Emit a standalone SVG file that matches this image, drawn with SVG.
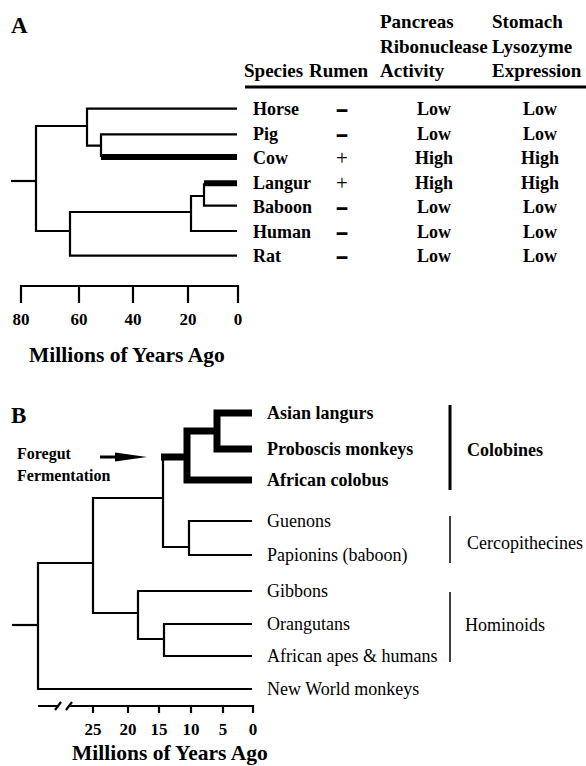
<svg xmlns="http://www.w3.org/2000/svg" width="586" height="766" viewBox="0 0 586 766">
<style>
text{font-family:"Liberation Serif","Times New Roman",serif;fill:#000}
.b{font-weight:bold}
.hd{font-size:19px;font-weight:bold}
.row{font-size:18px;font-weight:bold}
.lab{font-size:18px}
.plus{font-size:21px;text-anchor:middle}
.dash{font-size:18px;font-weight:bold;text-anchor:middle;stroke:#000;stroke-width:1.4}
.num{font-size:17px;font-weight:bold;text-anchor:middle}
.ax{font-size:21.5px;font-weight:bold}
.big{font-size:23px;font-weight:bold}
.mid{text-anchor:middle}
.ln{stroke:#000;stroke-width:2.2;fill:none;stroke-linejoin:miter}
.tk{stroke:#000;stroke-width:6;fill:none;stroke-linejoin:miter}
.tk7{stroke:#000;stroke-width:7;fill:none;stroke-linejoin:miter}
</style>

<!-- Panel A -->
<text class="big" x="11" y="33">A</text>
<g id="header">
<text class="hd" x="244" y="77">Species</text>
<text class="hd" x="309" y="77">Rumen</text>
<text class="hd" x="380" y="28">Pancreas</text>
<text class="hd" x="380" y="52.5">Ribonuclease</text>
<text class="hd" x="380" y="77">Activity</text>
<text class="hd" x="492" y="28">Stomach</text>
<text class="hd" x="492" y="52.5">Lysozyme</text>
<text class="hd" x="492" y="77">Expression</text>
<path d="M245 87 H586" stroke="#000" stroke-width="3"/>
</g>

<g id="horse"><text class="row" x="253" y="115">Horse</text><text class="dash" x="342" y="115">–</text><text class="row mid" x="434" y="115">Low</text><text class="row mid" x="540" y="115">Low</text></g>
<g id="pig"><text class="row" x="253" y="140">Pig</text><text class="dash" x="342" y="140">–</text><text class="row mid" x="434" y="140">Low</text><text class="row mid" x="540" y="140">Low</text></g>
<g id="cow"><text class="row" x="253" y="164">Cow</text><text class="plus" x="342" y="165">+</text><text class="row mid" x="434" y="164">High</text><text class="row mid" x="540" y="164">High</text></g>
<g id="langur"><text class="row" x="253" y="189">Langur</text><text class="plus" x="342" y="190">+</text><text class="row mid" x="434" y="189">High</text><text class="row mid" x="540" y="189">High</text></g>
<g id="baboon"><text class="row" x="253" y="213">Baboon</text><text class="dash" x="342" y="213">–</text><text class="row mid" x="434" y="213">Low</text><text class="row mid" x="540" y="213">Low</text></g>
<g id="human"><text class="row" x="253" y="238">Human</text><text class="dash" x="342" y="238">–</text><text class="row mid" x="434" y="238">Low</text><text class="row mid" x="540" y="238">Low</text></g>
<g id="rat"><text class="row" x="253" y="262">Rat</text><text class="dash" x="342" y="262">–</text><text class="row mid" x="434" y="262">Low</text><text class="row mid" x="540" y="262">Low</text></g>

<g id="axisA">
<path class="ln" d="M21 303 V286 H238 V303 M79 286 V303 M133 286 V303 M188 286 V303"/>
<text class="num" x="21" y="325">80</text>
<text class="num" x="79" y="325">60</text>
<text class="num" x="133" y="325">40</text>
<text class="num" x="188" y="325">20</text>
<text class="num" x="238" y="325">0</text>
<text class="ax" x="29" y="362">Millions of Years Ago</text>
</g>

<!-- Panel B -->
<text class="big" x="11" y="423">B</text>
<g id="foregut">
<text class="b" font-size="16" x="17" y="459">Foregut</text>
<text class="b" font-size="16" x="17" y="481">Fermentation</text>
</g>

<g id="asian"><text class="row" x="267" y="419">Asian langurs</text></g>
<g id="proboscis"><text class="row" x="267" y="455">Proboscis monkeys</text></g>
<g id="colobus"><text class="row" x="267" y="486">African colobus</text></g>
<g id="guenons"><text class="lab" x="267" y="527">Guenons</text></g>
<g id="papionins"><text class="lab" x="267" y="561">Papionins (baboon)</text></g>
<g id="gibbons"><text class="lab" x="267" y="597">Gibbons</text></g>
<g id="orangutans"><text class="lab" x="267" y="630">Orangutans</text></g>
<g id="apes"><text class="lab" x="267" y="662">African apes &amp; humans</text></g>
<g id="newworld"><text class="lab" x="267" y="695">New World monkeys</text></g>

<g id="colobines"><path d="M450 405 V490" stroke="#000" stroke-width="3"/><text class="row" x="467" y="456">Colobines</text></g>
<g id="cercopithecines"><path d="M450 516 V563" stroke="#000" stroke-width="1.5"/><text class="lab" x="467" y="549">Cercopithecines</text></g>
<g id="hominoids"><path d="M450 592 V662" stroke="#000" stroke-width="1.5"/><text class="lab" x="465" y="631">Hominoids</text></g>

<g id="axisB">
<path class="ln" d="M38 706 H58 M55 710 L61 702 M66 710 L72 702 M69 706 H253 V713 M93 706 V713 M128 706 V713 M159 706 V713 M191 706 V713 M223 706 V713"/>
<text class="num" x="93" y="735">25</text>
<text class="num" x="128" y="735">20</text>
<text class="num" x="159" y="735">15</text>
<text class="num" x="191" y="735">10</text>
<text class="num" x="223" y="735">5</text>
<text class="num" x="253" y="735">0</text>
<text class="ax" x="72" y="760">Millions of Years Ago</text>
</g>

<g id="connectors">
<!-- tree A -->
<path class="ln" d="M11 181 H36"/>
<path class="ln" d="M87 126 H36 V231 H70"/>
<path class="ln" d="M237 108.7 H87 V145.7 H101"/>
<path class="ln" d="M237 134.3 H101 V157"/>
<path class="tk" d="M101 157 H237"/>
<path class="ln" d="M191 212 H70 V255.7 H237"/>
<path class="ln" d="M237 231 H191 V196 H204"/>
<path class="ln" d="M237 205.7 H204 V183.3"/>
<path class="tk" d="M204 183.3 H237"/>
<!-- tree B -->
<path class="ln" d="M12 625 H38"/>
<path class="ln" d="M93 563 H38 V689 H252"/>
<path class="ln" d="M163 498 H93 V613 H138"/>
<path class="ln" d="M252 591 H138 V639 H164"/>
<path class="ln" d="M252 624 H164 V656 H252"/>
<path class="ln" d="M163 457 V547 H189"/>
<path class="ln" d="M252 521 H189 V555 H252"/>
<path class="tk7" d="M161 457 H187"/>
<path class="tk7" d="M217 431 H187 V480 H252"/>
<path class="tk7" d="M252 413 H217 V449 H252"/>
<!-- arrow -->
<path d="M100 457 H120" stroke="#000" stroke-width="3"/>
<polygon points="115,452.5 147,457 115,461.5" fill="#000"/>
</g>
</svg>
